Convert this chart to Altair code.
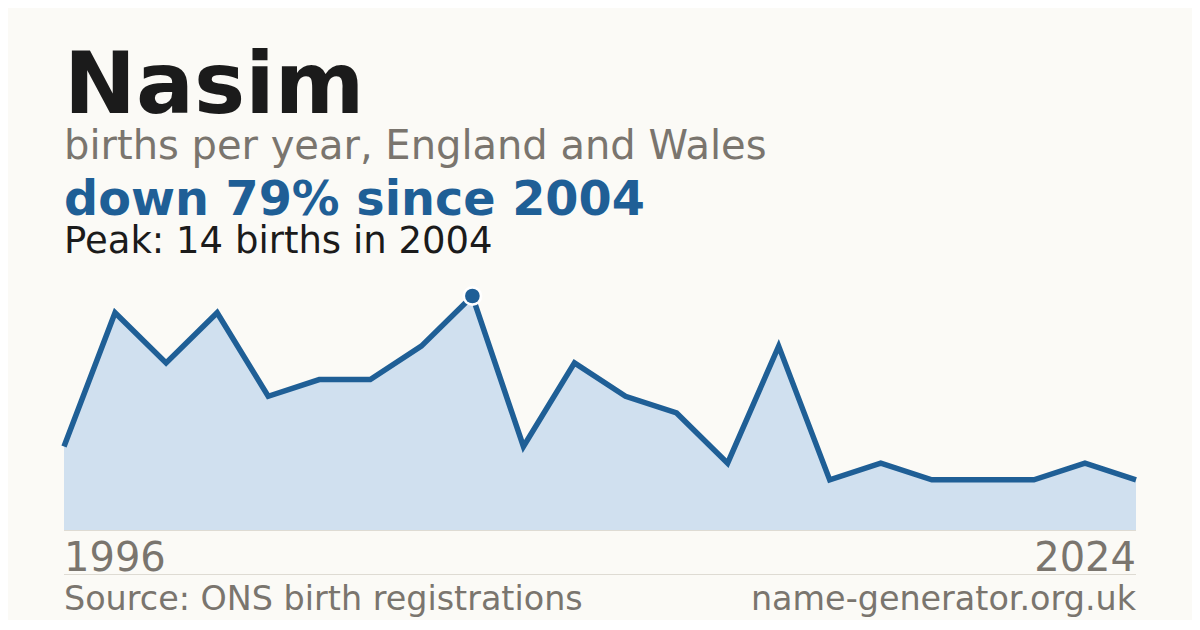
import altair as alt
import pandas as pd

years = [1996, 1997, 1998, 1999, 2000, 2001, 2002, 2003, 2004,
         2005, 2006, 2007, 2008, 2009, 2010, 2012, 2014, 2016, 2018, 2020, 2022, 2024]
births = [5, 13, 10, 13, 8, 9, 9, 11, 14,
          5, 10, 8, 7, 4, 11, 3, 4, 3, 3, 3, 4, 3]
peak_year = 2004
peak_value = 14

name = "Nasim"
subtitle = "births per year, England and Wales"
headline = "down 79% since 2004"
peak_text = "Peak: 14 births in 2004"
first_label = "1996"
last_label = "2024"
source = "Source: ONS birth registrations"
site = "name-generator.org.uk"

W, H = 1072, 234
BG = "#fbfaf6"
BLUE = "#1f5f96"
FILL = "#d0e0ef"
GRAY = "#7a756e"
DARK = "#1b1b1b"
FONT = "DejaVu Sans"

df = pd.DataFrame({"year": [str(y) for y in years], "births": births})
peak_df = pd.DataFrame({"year": [str(peak_year)], "births": [peak_value]})

xs = alt.X("year:O", scale=alt.Scale(type="point", padding=0), axis=None)
ys = alt.Y("births:Q", scale=alt.Scale(domain=[0, 14], nice=False, zero=True), axis=None)

base = alt.Chart(df)
area = base.mark_area(color=FILL, opacity=1).encode(x=xs, y=ys)
line = base.mark_line(color=BLUE, strokeWidth=5.5, strokeJoin="miter", strokeCap="butt").encode(x=xs, y=ys)
peak_ring = alt.Chart(peak_df).mark_point(filled=True, shape="circle", size=400, opacity=1,
                                          strokeWidth=0).encode(
    x=xs, y=ys, fill=alt.value("white"))
peak_dot = alt.Chart(peak_df).mark_point(filled=True, shape="circle", size=215, opacity=1,
                                         strokeWidth=0).encode(
    x=xs, y=ys, fill=alt.value(BLUE))

one = pd.DataFrame({"k": [0]})


def txt(text, y, size, color, weight="normal", x=0, align="left"):
    return alt.Chart(one).mark_text(text=text, font=FONT, fontSize=size, fontWeight=weight,
                                    color=color, align=align, baseline="alphabetic").encode(
        x=alt.value(x), y=alt.value(y))


baseline_rule = alt.Chart(one).mark_rule(color="#dedbd3", strokeWidth=1).encode(
    x=alt.value(0), x2=alt.value(W), y=alt.value(H + 0.5))
sep_rule = alt.Chart(one).mark_rule(color="#dedbd3", strokeWidth=1).encode(
    x=alt.value(0), x2=alt.value(W), y=alt.value(278.5))

texts = [
    txt(name, -183, 86, DARK, "bold"),
    txt(subtitle, -137, 40, GRAY),
    txt(headline, -81, 47.7, BLUE, "bold"),
    txt(peak_text, -43, 37, DARK),
    txt(first_label, 275, 40, GRAY),
    txt(last_label, 275, 40, GRAY, x=W, align="right"),
    txt(source, 314, 33.4, GRAY),
    txt(site, 314, 33.4, GRAY, x=W, align="right"),
]

chart = alt.layer(area, baseline_rule, line, peak_ring, peak_dot, sep_rule, *texts).properties(
    width=W, height=H, background=BG,
    padding={"left": 56, "top": 288, "right": 56, "bottom": 90},
    autosize=alt.AutoSizeParams(type="none"),
).configure_view(stroke=None)

chart.save("out.html", embed_options={"renderer": "svg", "actions": False})
